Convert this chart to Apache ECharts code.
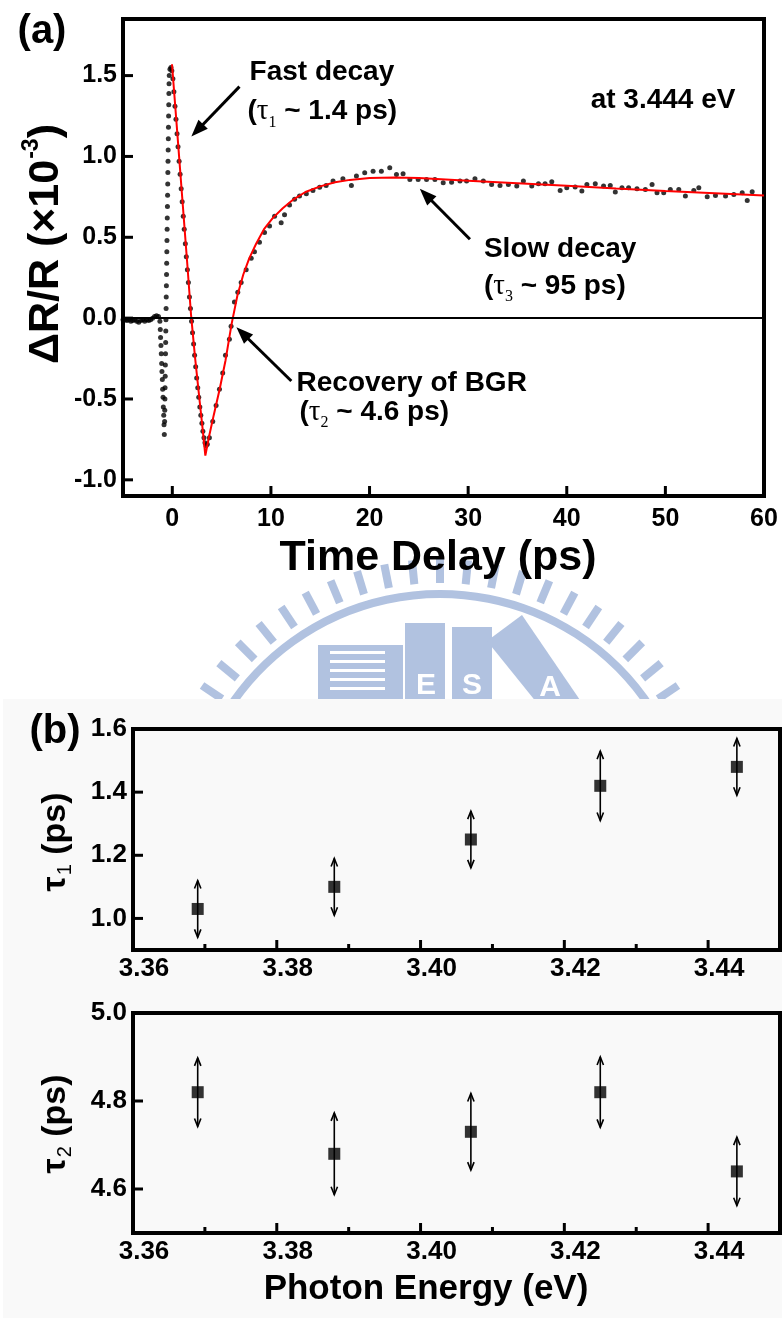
<!DOCTYPE html>
<html><head><meta charset="utf-8">
<script src="https://cdn.jsdelivr.net/npm/echarts@6/dist/echarts.min.js"></script>
<style>html,body{margin:0;padding:0;background:#fff}#c{width:782px;height:1318px}</style>
</head><body><div id="c"></div>
<script>
// ---------- Panel (a): transient reflectivity at 3.444 eV ----------
const delayT = [
 -5.0,-4.8,-4.6,-4.4,-4.2,-4.0,-3.8,-3.6,-3.4,-3.2,-3.0,-2.8,-2.6,-2.4,-2.2,-2.0,-1.8,-1.6,-1.4,
 -1.26,-1.22,-1.19,-1.15,-1.12,-1.08,-1.05,-1.01,-0.98,-0.94,-0.91,-0.87,-0.84,-0.81,
 -0.78,-0.765,-0.75,-0.735,-0.72,-0.705,-0.69,-0.675,-0.66,-0.645,-0.63,-0.615,-0.60,-0.585,-0.57,-0.555,
 -0.54,-0.525,-0.51,-0.495,-0.48,-0.465,-0.45,-0.435,-0.42,-0.405,-0.39,-0.375,-0.36,-0.345,-0.33,-0.31,
 -0.24,-0.14,-0.05,
 0.06,0.16,0.27,0.37,0.48,0.58,0.69,0.79,0.90,1.00,1.11,1.21,1.32,1.42,1.53,1.63,1.74,1.84,1.95,2.05,
 2.16,2.26,2.37,2.47,2.58,2.68,2.79,2.89,3.00,3.10,3.21,3.31,3.42,3.55,
 3.76,4.10,4.44,4.78,5.11,5.39,5.79,5.96,6.30,6.64,6.98,7.49,8.00,8.33,8.84,9.35,9.86,10.37,11.04,11.38,
 11.89,12.40,12.90,13.59,14.26,14.94,15.60,
 16.3,17.3,18.16,18.67,19.51,20.36,21.2,22.05,22.73,23.4,
 24.09,24.93,25.78,26.63,27.47,28.32,29.17,29.84,30.69,31.54,32.38,33.23,34.08,34.93,35.6,36.45,37.13,
 37.8,38.48,39.33,40.0,40.85,41.53,42.04,42.89,43.73,44.41,44.92,45.6,46.27,47.12,47.97,48.65,49.15,
 49.83,50.5,51.36,52.03,52.88,53.39,54.24,55.08,56.1,56.94,57.79,58.3,58.8
];
const deltaR = [
 -0.01,-0.01,-0.015,-0.01,-0.02,-0.015,-0.01,-0.02,-0.025,-0.015,-0.01,-0.02,-0.01,-0.015,-0.01,0.0,0.01,0.015,0.01,
 -0.02,-0.07,-0.12,-0.17,-0.22,-0.28,-0.33,-0.38,-0.44,-0.49,-0.55,-0.60,-0.66,-0.72,
 -0.64,-0.57,-0.50,-0.43,-0.36,-0.29,-0.22,-0.15,-0.08,-0.01,0.06,0.13,0.20,0.27,0.34,0.41,
 0.48,0.55,0.62,0.69,0.76,0.83,0.90,0.97,1.04,1.11,1.18,1.25,1.32,1.39,1.45,1.50,
 1.54,1.55,1.53,
 1.48,1.40,1.31,1.23,1.14,1.06,0.97,0.89,0.80,0.72,0.63,0.55,0.46,0.38,0.30,0.22,0.13,0.06,-0.02,-0.09,
 -0.16,-0.23,-0.30,-0.37,-0.43,-0.49,-0.55,-0.60,-0.65,-0.70,-0.74,-0.77,-0.79,-0.78,
 -0.74,-0.64,-0.54,-0.44,-0.34,-0.23,-0.13,-0.05,0.10,0.16,0.22,0.30,0.37,0.41,0.47,0.53,0.57,0.63,0.59,0.64,
 0.70,0.735,0.755,0.77,0.79,0.81,0.82,
 0.848,0.862,0.821,0.879,0.899,0.909,0.909,0.930,0.889,0.893,
 0.858,0.858,0.858,0.858,0.837,0.841,0.848,0.848,0.862,0.848,0.827,0.821,0.827,0.817,0.848,0.817,0.831,
 0.831,0.844,0.790,0.807,0.811,0.786,0.827,0.831,0.817,0.821,0.780,0.807,0.807,0.800,0.796,0.827,0.776,
 0.776,0.796,0.796,0.755,0.790,0.807,0.751,0.759,0.755,0.765,0.776,0.728,0.782
];
const fitT = [-0.03,0.5,1.0,1.5,1.9,2.3,2.75,3.1,3.35,3.7,4.2,4.8,5.4,6.0,6.6,7.2,7.8,8.5,9.3,10.2,11.2,12.3,13.5,15.0,16.5,18.0,20.0,22.5,25.0,30.0,35.0,40.0,45.0,50.0,55.0,60.0];
const fitV = [1.57,1.15,0.75,0.35,0.02,-0.24,-0.50,-0.70,-0.85,-0.74,-0.60,-0.44,-0.26,-0.04,0.14,0.27,0.37,0.46,0.55,0.62,0.68,0.735,0.78,0.815,0.84,0.855,0.866,0.87,0.866,0.85,0.834,0.818,0.802,0.787,0.773,0.759];
const xTicksA = [0,10,20,30,40,50,60];
const yTicksA = [-1.0,-0.5,0.0,0.5,1.0,1.5];

// ---------- Panel (b): fitted time constants vs photon energy ----------
const energy = [3.369,3.388,3.407,3.425,3.444];
const tau1 = [1.03,1.10,1.25,1.42,1.48];
const tau1Err = [0.09,0.09,0.09,0.11,0.09];
const tau2 = [4.82,4.68,4.73,4.82,4.64];
const tau2Err = [0.078,0.093,0.087,0.08,0.078];
const xTicksB = [3.36,3.38,3.40,3.42,3.44];
const xMinorB = [3.37,3.39,3.41,3.43];
const yTicksB1 = [1.0,1.2,1.4,1.6];
const yTicksB2 = [4.6,4.8,5.0];

const FONT = 'Liberation Sans';
const chart = echarts.init(document.getElementById('c'));

const labelBase = {color:'#000', fontFamily:FONT, fontWeight:'bold'};
const noLine = {show:false, onZero:false};

function xAxisB(grid){
  return {type:'value', gridIndex:grid, min:3.36, max:3.45,
    axisLine:noLine, splitLine:{show:false}, axisTick:{show:false},
    axisLabel:{show:true, ...labelBase, fontSize:26, margin:6, padding:[0,0,0,22], customValues:xTicksB,
      formatter:v=>v.toFixed(2)}};
}
function yAxisB(grid, min, max, ticks){
  return {type:'value', gridIndex:grid, min:min, max:max,
    axisLine:noLine, splitLine:{show:false}, axisTick:{show:false},
    axisLabel:{show:true, ...labelBase, fontSize:26, margin:6, customValues:ticks, formatter:v=>v.toFixed(1)}};
}
function errRender(params, api){
  const x = api.value(0), y = api.value(1), e = api.value(2);
  const t = api.coord([x, y+e]), b = api.coord([x, y-e]);
  const hl = 8, hw = 3.2, st = {stroke:'#000', lineWidth:1.6, fill:null};
  return {type:'group', children:[
    {type:'line', shape:{x1:t[0],y1:t[1],x2:b[0],y2:b[1]}, style:st},
    {type:'polyline', shape:{points:[[t[0]-hw,t[1]+hl],[t[0],t[1]],[t[0]+hw,t[1]+hl]]}, style:st},
    {type:'polyline', shape:{points:[[b[0]-hw,b[1]-hl],[b[0],b[1]],[b[0]+hw,b[1]-hl]]}, style:st}
  ]};
}
// inward tick marks, placed through the axes' scales
function tickSeries(xi, yi, pts, dir, len){
  return {type:'custom', xAxisIndex:xi, yAxisIndex:yi, silent:true, clip:false, z:6, data:pts,
    renderItem:(params, api) => {
      const cs = params.coordSys;
      const p = api.coord([api.value(0), api.value(1)]);
      const shape = dir === 'x'
        ? {x1:p[0], y1:cs.y+cs.height, x2:p[0], y2:cs.y+cs.height-len}
        : {x1:cs.x, y1:p[1], x2:cs.x+len, y2:p[1]};
      return {type:'line', shape:shape, style:{stroke:'#000', lineWidth:3}};
    }};
}

const gridBase = {show:true, borderColor:'#000', borderWidth:4, backgroundColor:'transparent', containLabel:false};

const option = {
  backgroundColor:'#ffffff',
  animation:false,
  grid:[
    {...gridBase, left:123, top:19, width:641, height:477},
    {...gridBase, left:133, top:729, width:647, height:221},
    {...gridBase, left:133, top:1013, width:647, height:220}
  ],
  xAxis:[
    {type:'value', gridIndex:0, min:-5, max:60, axisLine:noLine, splitLine:{show:false}, axisTick:{show:false},
     axisLabel:{show:true, ...labelBase, fontSize:25, margin:11, customValues:xTicksA}},
    xAxisB(1), xAxisB(2)
  ],
  yAxis:[
    {type:'value', gridIndex:0, min:-1.1, max:1.85, axisLine:noLine, splitLine:{show:false}, axisTick:{show:false},
     axisLabel:{show:true, ...labelBase, fontSize:25, margin:6, customValues:yTicksA, formatter:v=>v.toFixed(1)}},
    yAxisB(1, 0.9, 1.6, yTicksB1),
    yAxisB(2, 4.5, 5.0, yTicksB2)
  ],
  series:[
    {type:'line', xAxisIndex:0, yAxisIndex:0, data:[], silent:true,
     markLine:{silent:true, symbol:'none', label:{show:false}, lineStyle:{color:'#000', width:2, type:'solid'}, data:[{yAxis:0}]}},
    {type:'scatter', xAxisIndex:0, yAxisIndex:0, symbol:'circle', symbolSize:5,
     itemStyle:{color:'#000'}, data:delayT.map((t,i)=>[t, deltaR[i]]), z:3},
    {type:'line', xAxisIndex:0, yAxisIndex:0, showSymbol:false, smooth:false,
     lineStyle:{color:'#ff0000', width:2}, data:fitT.map((t,i)=>[t, fitV[i]]), z:4},
    {type:'custom', xAxisIndex:1, yAxisIndex:1, renderItem:errRender, data:energy.map((e,i)=>[e, tau1[i], tau1Err[i]]), z:3},
    {type:'scatter', xAxisIndex:1, yAxisIndex:1, symbol:'rect', symbolSize:12, itemStyle:{color:'#000'},
     data:energy.map((e,i)=>[e, tau1[i]]), z:4},
    {type:'custom', xAxisIndex:2, yAxisIndex:2, renderItem:errRender, data:energy.map((e,i)=>[e, tau2[i], tau2Err[i]]), z:3},
    {type:'scatter', xAxisIndex:2, yAxisIndex:2, symbol:'rect', symbolSize:12, itemStyle:{color:'#000'},
     data:energy.map((e,i)=>[e, tau2[i]]), z:4},
    // ticks
    tickSeries(0, 0, xTicksA.map(v=>[v, -1.1]), 'x', 10),
    tickSeries(0, 0, yTicksA.map(v=>[-5, v]), 'y', 10),
    tickSeries(1, 1, xTicksB.map(v=>[v, 0.9]), 'x', 10),
    tickSeries(1, 1, xMinorB.map(v=>[v, 0.9]), 'x', 6),
    tickSeries(1, 1, yTicksB1.map(v=>[3.36, v]), 'y', 10),
    tickSeries(2, 2, xTicksB.map(v=>[v, 4.5]), 'x', 10),
    tickSeries(2, 2, xMinorB.map(v=>[v, 4.5]), 'x', 6),
    tickSeries(2, 2, yTicksB2.map(v=>[3.36, v]), 'y', 10)
  ]
};
chart.setOption(option);

// ---------- decorations ----------
const P = (t, v) => chart.convertToPixel({gridIndex:0}, [t, v]);
const g = [];

// watermark (faint seal behind the gap between panels)
const wmCol = '#b1c2e0', cx = 440, cy = 846;
for (let a = -56; a <= 56.1; a += 5.6) {
  const r = a * Math.PI / 180, s = Math.sin(r), c = Math.cos(r);
  g.push({type:'line', z:-10, silent:true, shape:{x1:cx+263*s, y1:cy-263*c, x2:cx+287*s, y2:cy-287*c},
          style:{stroke:wmCol, lineWidth:8}});
}
g.push({type:'arc', z:-10, silent:true, shape:{cx:cx, cy:cy, r:252, startAngle:-Math.PI/2-1.0, endAngle:-Math.PI/2+1.0},
        style:{stroke:wmCol, lineWidth:8, fill:null}});
g.push({type:'rect', z:-10, silent:true, shape:{x:318, y:645, width:85, height:60}, style:{fill:wmCol}});
for (const yy of [651, 660, 669, 678, 687]) {
  g.push({type:'rect', z:-9, silent:true, shape:{x:330, y:yy, width:55, height:3}, style:{fill:'#fff'}});
}
g.push({type:'rect', z:-10, silent:true, shape:{x:405, y:623, width:40, height:80}, style:{fill:wmCol}});
g.push({type:'rect', z:-10, silent:true, shape:{x:452, y:627, width:40, height:76}, style:{fill:wmCol}});
g.push({type:'polygon', z:-10, silent:true, shape:{points:[[487,641],[522,615],[582,703],[537,703]]}, style:{fill:wmCol}});
g.push({type:'text', z:-9, silent:true, x:426, y:686, style:{text:'E', fill:'#fff', fontSize:30, fontWeight:'bold', fontFamily:FONT, align:'center', verticalAlign:'middle'}});
g.push({type:'text', z:-9, silent:true, x:472, y:686, style:{text:'S', fill:'#fff', fontSize:30, fontWeight:'bold', fontFamily:FONT, align:'center', verticalAlign:'middle'}});
g.push({type:'text', z:-9, silent:true, x:550, y:688, style:{text:'A', fill:'#fff', fontSize:30, fontWeight:'bold', fontFamily:FONT, align:'center', verticalAlign:'middle'}});

// panel (b) light background
g.push({type:'rect', z:-5, silent:true, shape:{x:3, y:699, width:779, height:619}, style:{fill:'#f9f9f9'}});

// panel labels & axis titles
const bold = (size) => ({fill:'#000', fontSize:size, fontWeight:'bold', fontFamily:FONT});
g.push({type:'text', z:10, x:42, y:32, style:{text:'(a)', ...bold(40), align:'center', verticalAlign:'middle'}});
g.push({type:'text', z:10, x:55, y:732, style:{text:'(b)', ...bold(40), align:'center', verticalAlign:'middle'}});
g.push({type:'text', z:10, x:438, y:558, style:{text:'Time Delay (ps)', ...bold(43), align:'center', verticalAlign:'middle'}});
g.push({type:'text', z:10, x:426, y:1289, style:{text:'Photon Energy (eV)', ...bold(35), align:'center', verticalAlign:'middle'}});
g.push({type:'text', z:10, x:46, y:244, rotation:Math.PI/2, style:{
  text:'{m|ΔR/R (×10}{u|-3}{m|)}', align:'center', verticalAlign:'middle', fill:'#000',
  rich:{m:{...bold(43)}, u:{...bold(23), padding:[0,0,28,1]}}}});
const tauTitle = (sub) => ({
  text:'{t|τ}{s|'+sub+'}{m| (ps)}', align:'center', verticalAlign:'middle', fill:'#000',
  rich:{t:{...bold(34)}, s:{fill:'#000', fontSize:20, fontFamily:FONT, padding:[18,0,0,1]}, m:{...bold(34)}}});
g.push({type:'text', z:10, x:56, y:842, rotation:Math.PI/2, style:tauTitle('1')});
g.push({type:'text', z:10, x:56, y:1124, rotation:Math.PI/2, style:tauTitle('2')});

// annotations in panel (a) (anchored in data coordinates)
const annoRich = {
  a:{...bold(28)},
  t:{fill:'#000', fontSize:29, fontFamily:'Liberation Serif'},
  s:{fill:'#000', fontSize:16, fontFamily:'Liberation Serif', padding:[22,0,0,0]}
};
function annoText(t, v, text){
  const p = P(t, v);
  g.push({type:'text', z:10, x:p[0], y:p[1], style:{text:text, align:'left', verticalAlign:'middle', fill:'#000', rich:annoRich}});
}
function annoArrow(tail, tip){
  const a = P(tail[0], tail[1]), b = P(tip[0], tip[1]);
  const dx = b[0]-a[0], dy = b[1]-a[1], L = Math.hypot(dx, dy), ux = dx/L, uy = dy/L;
  const hl = 17, hw = 6.5, bx = b[0]-ux*hl, by = b[1]-uy*hl;
  g.push({type:'line', z:10, shape:{x1:a[0], y1:a[1], x2:bx+ux*3, y2:by+uy*3}, style:{stroke:'#000', lineWidth:3}});
  g.push({type:'polygon', z:10, shape:{points:[[b[0],b[1]],[bx-uy*hw,by+ux*hw],[bx+uy*hw,by-ux*hw]]}, style:{fill:'#000'}});
}
annoText(7.83, 1.518, '{a|Fast decay}');
annoText(7.62, 1.278, '{a|(}{t|τ}{s|1}{a| ~ 1.4 ps)}');
annoText(31.6, 0.426, '{a|Slow decay}');
annoText(31.6, 0.198, '{a|(}{t|τ}{s|3}{a| ~ 95 ps)}');
annoText(12.6, -0.401, '{a|Recovery of BGR}');
annoText(12.9, -0.580, '{a|(}{t|τ}{s|2}{a| ~ 4.6 ps)}');
(function(){ const p = P(57.1, 1.346);
  g.push({type:'text', z:10, x:p[0], y:p[1], style:{text:'at 3.444 eV', ...bold(28), align:'right', verticalAlign:'middle'}}); })();
annoArrow([6.81, 1.432], [1.93, 1.123]);
annoArrow([30.18, 0.488], [25.1, 0.80]);
annoArrow([12.07, -0.389], [6.5, -0.056]);

chart.setOption({graphic:{elements:g}});
</script>
</body></html>
